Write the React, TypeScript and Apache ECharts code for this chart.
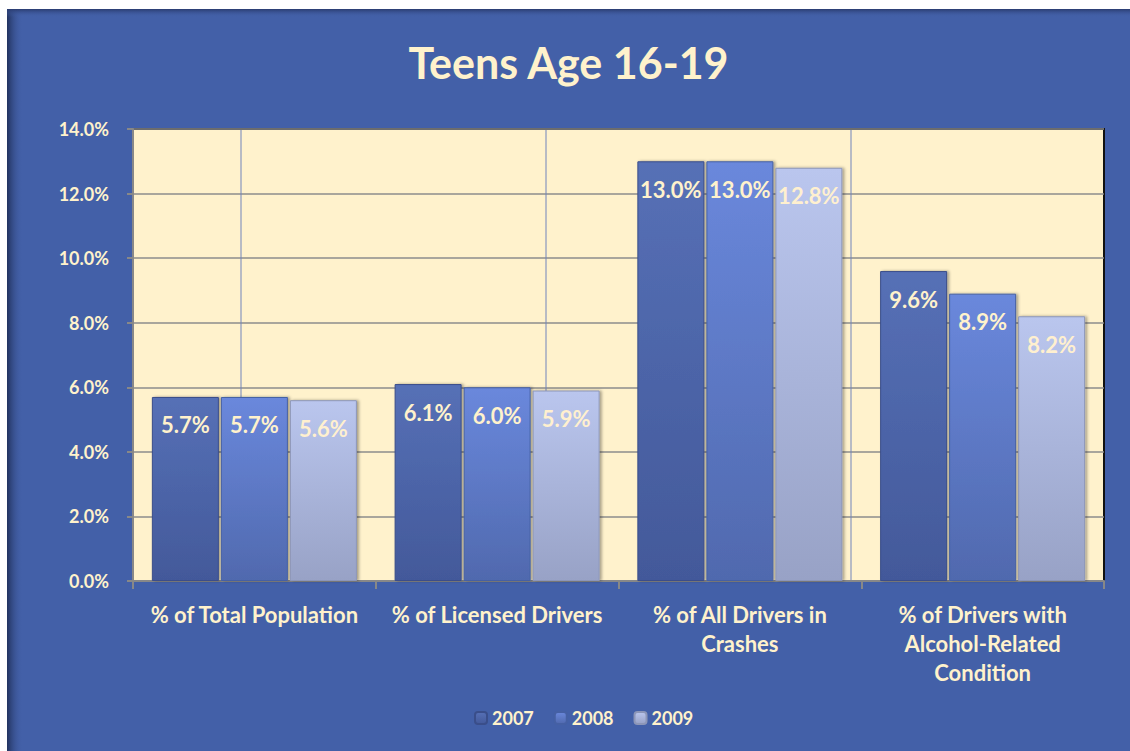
import React, { useEffect, useRef } from "react";
import * as echarts from "echarts";

const categories = [
  "% of Total Population",
  "% of Licensed Drivers",
  "% of All Drivers in\nCrashes",
  "% of Drivers with\nAlcohol-Related\nCondition",
];
const years = ["2007", "2008", "2009"];
const values2007 = [5.7, 6.1, 13.0, 9.6];
const values2008 = [5.7, 6.0, 13.0, 8.9];
const values2009 = [5.6, 5.9, 12.8, 8.2];
const yTicks = [0, 2, 4, 6, 8, 10, 12, 14];

const FONT = "Lato, 'Noto Sans', sans-serif";
const CREAM = "#FFF2CC";

const grad = (top: string, bottom: string) =>
  new echarts.graphic.LinearGradient(0, 0, 0, 1, [
    { offset: 0, color: top },
    { offset: 1, color: bottom },
  ]);

export default function App() {
  const ref = useRef<HTMLDivElement>(null);
  useEffect(() => {
    if (!ref.current) return;
    const chart = echarts.init(ref.current, undefined, { renderer: "svg" });
    const seriesData = [values2007, values2008, values2009];
    const faces = [
      grad("#5670B6", "#43599A"),
      grad("#6A88DC", "#5069AE"),
      grad("#BAC6EE", "#98A2C6"),
    ];
    const borders = ["#3A4E8A", "#4560A4", "#8C96B8"];
    const labelColors = [CREAM, CREAM, "#FFF0CF"];
    chart.setOption({
      animation: false,
      backgroundColor: "#4360A8",
      title: {
        text: "Teens Age 16-19",
        left: "center",
        top: 27,
        textStyle: {
          color: CREAM,
          fontFamily: FONT,
          fontWeight: "bold",
          fontSize: 43,
        },
      },
      legend: {
        bottom: 19,
        left: 462,
        itemWidth: 12,
        itemHeight: 12,
        itemGap: 20,
        textStyle: {
          color: CREAM,
          fontFamily: FONT,
          fontWeight: "bold",
          fontSize: 18,
        },
        data: years,
      },
      grid: {
        left: 126,
        top: 120,
        right: 26,
        bottom: 170,
        show: true,
        backgroundColor: CREAM,
        borderColor: "#111",
        borderWidth: 2,
      },
      graphic: [
        {
          type: "rect",
          shape: { x: 0, y: 0, width: 16, height: 742 },
          style: {
            fill: new echarts.graphic.LinearGradient(0, 0, 1, 0, [
              { offset: 0, color: "#22325E" },
              { offset: 1, color: "rgba(67,96,168,0)" },
            ]),
          },
          silent: true,
        },
        {
          type: "rect",
          shape: { x: 0, y: 0, width: 1123, height: 8 },
          style: {
            fill: new echarts.graphic.LinearGradient(0, 0, 0, 1, [
              { offset: 0, color: "#2A3C70" },
              { offset: 1, color: "rgba(67,96,168,0)" },
            ]),
          },
          silent: true,
        },
        ...[234, 539, 844].map((x) => ({
          type: "line",
          shape: { x1: x, y1: 121, x2: x, y2: 571 },
          style: { stroke: "#7184BC", lineWidth: 1 },
          silent: true,
          z: 1,
        })),
      ],
      xAxis: {
        type: "category",
        data: categories,
        axisLine: { show: true, lineStyle: { color: "#888", width: 2 } },
        axisTick: { show: true, length: 8, lineStyle: { color: "#888", width: 2 } },
        axisLabel: {
          color: CREAM,
          fontFamily: FONT,
          fontWeight: "bold",
          fontSize: 22,
          lineHeight: 29,
          margin: 19,
          interval: 0,
        },
      },
      yAxis: {
        type: "value",
        min: 0,
        max: 14,
        interval: 2,
        axisLine: { show: true, lineStyle: { color: "#888", width: 2 } },
        axisTick: { show: true, length: 6, lineStyle: { color: "#888", width: 2 } },
        splitLine: { show: true, lineStyle: { color: "#8C8C8C", width: 1.5 } },
        axisLabel: {
          color: CREAM,
          fontFamily: FONT,
          fontWeight: "bold",
          fontSize: 18,
          margin: 24,
          formatter: (v: number) => (yTicks.includes(v) ? v.toFixed(1) + "%" : ""),
        },
      },
      series: years.map((y, i) => ({
        name: y,
        type: "bar",
        data: seriesData[i],
        barWidth: 67,
        barGap: "3%",
        itemStyle: {
          color: faces[i],
          borderColor: borders[i],
          borderWidth: 1,
          shadowColor: "rgba(0,0,0,0.35)",
          shadowBlur: 3,
          shadowOffsetX: 2,
        },
        label: {
          show: true,
          position: "insideTop",
          distance: 17,
          color: labelColors[i],
          fontFamily: FONT,
          fontWeight: "bold",
          fontSize: 22,
          formatter: (p: any) => p.value.toFixed(1) + "%",
        },
      })),
    });
    return () => chart.dispose();
  }, []);
  return (
    <div
      style={{
        position: "fixed",
        left: 0,
        top: 0,
        width: 1130,
        height: 751,
        background: "#fff",
      }}
    >
      <div
        ref={ref}
        style={{ position: "absolute", left: 7, top: 9, width: 1123, height: 742 }}
      />
    </div>
  );
}
